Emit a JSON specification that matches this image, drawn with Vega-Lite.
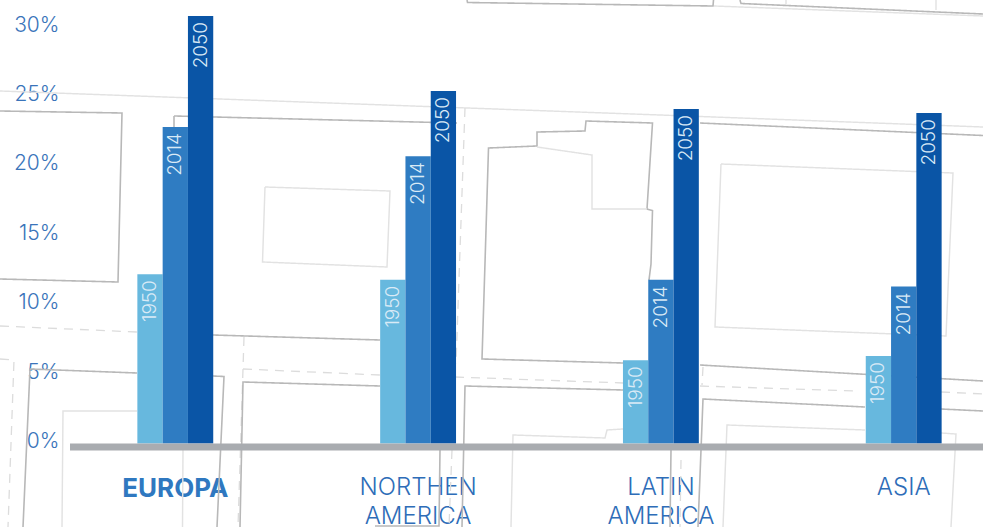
{"$schema":"https://vega.github.io/schema/vega-lite/v6.json","width":983,"height":528,"autosize":{"type":"none"},"padding":0,"background":"#ffffff","config":{"view":{"stroke":null}},"resolve":{"scale":{"x":"independent","y":"independent","color":"independent","strokeWidth":"independent","strokeDash":"independent"},"axis":{"x":"independent","y":"independent"}},"layer":[
{"data":{"values":[
{"id":"a","kind":"wall","i":0,"mx":0,"my":111},{"id":"a","kind":"wall","i":1,"mx":122,"my":113},{"id":"a","kind":"wall","i":2,"mx":118,"my":282},{"id":"a","kind":"wall","i":3,"mx":0,"my":279},
{"id":"b","kind":"thin","i":0,"mx":0,"my":91},{"id":"b","kind":"thin","i":1,"mx":330,"my":103},{"id":"b","kind":"thin","i":2,"mx":660,"my":115},{"id":"b","kind":"thin","i":3,"mx":983,"my":127},
{"id":"c","kind":"wall","i":0,"mx":174,"my":127},{"id":"c","kind":"wall","i":1,"mx":174,"my":116},{"id":"c","kind":"wall","i":2,"mx":457,"my":123},
{"id":"c2","kind":"wall","i":0,"mx":213,"my":335},{"id":"c2","kind":"wall","i":1,"mx":380,"my":340},
{"id":"d","kind":"wall","i":0,"mx":623,"my":363},{"id":"d","kind":"wall","i":1,"mx":482,"my":359},{"id":"d","kind":"wall","i":2,"mx":485,"my":263},{"id":"d","kind":"wall","i":3,"mx":488.5,"my":148},{"id":"d","kind":"wall","i":4,"mx":537,"my":146},{"id":"d","kind":"wall","i":5,"mx":537,"my":132},{"id":"d","kind":"wall","i":6,"mx":585,"my":131},{"id":"d","kind":"wall","i":7,"mx":586,"my":121},{"id":"d","kind":"wall","i":8,"mx":652.5,"my":123},{"id":"d","kind":"wall","i":9,"mx":647,"my":209},{"id":"d","kind":"wall","i":10,"mx":652.5,"my":210.5},{"id":"d","kind":"wall","i":11,"mx":651,"my":264},{"id":"d","kind":"wall","i":12,"mx":649,"my":280},
{"id":"e","kind":"thin","i":0,"mx":537,"my":147},{"id":"e","kind":"thin","i":1,"mx":592,"my":155},{"id":"e","kind":"thin","i":2,"mx":592,"my":209},{"id":"e","kind":"thin","i":3,"mx":647,"my":209},
{"id":"f","kind":"thin","i":0,"mx":265,"my":187},{"id":"f","kind":"thin","i":1,"mx":390,"my":191},{"id":"f","kind":"thin","i":2,"mx":387,"my":267},{"id":"f","kind":"thin","i":3,"mx":262.5,"my":262},{"id":"f","kind":"thin","i":4,"mx":265,"my":187},
{"id":"g","kind":"thin","i":0,"mx":721,"my":164},{"id":"g","kind":"thin","i":1,"mx":953,"my":173},{"id":"g","kind":"thin","i":2,"mx":946,"my":336},{"id":"g","kind":"thin","i":3,"mx":715,"my":327},{"id":"g","kind":"thin","i":4,"mx":721,"my":164},
{"id":"h","kind":"wall","i":0,"mx":700,"my":123},{"id":"h","kind":"wall","i":1,"mx":983,"my":135.5},
{"id":"h2","kind":"wall","i":0,"mx":700,"my":365},{"id":"h2","kind":"wall","i":1,"mx":983,"my":381},
{"id":"r1","kind":"dashed","i":0,"mx":0,"my":326},{"id":"r1","kind":"dashed","i":1,"mx":137,"my":332},
{"id":"r2","kind":"dashed","i":0,"mx":243,"my":369},{"id":"r2","kind":"dashed","i":1,"mx":380,"my":375},
{"id":"r3","kind":"dashed","i":0,"mx":455,"my":377},{"id":"r3","kind":"dashed","i":1,"mx":623,"my":383},
{"id":"r4","kind":"dashed","i":0,"mx":700,"my":386},{"id":"r4","kind":"dashed","i":1,"mx":858,"my":391},
{"id":"r5","kind":"dashed","i":0,"mx":941,"my":392},{"id":"r5","kind":"dashed","i":1,"mx":983,"my":394},
{"id":"v1","kind":"dashed","i":0,"mx":244,"my":337},{"id":"v1","kind":"dashed","i":1,"mx":243,"my":369},{"id":"v1","kind":"dashed","i":2,"mx":238,"my":527},
{"id":"v2","kind":"dashed","i":0,"mx":0,"my":359},{"id":"v2","kind":"dashed","i":1,"mx":14,"my":360},{"id":"v2","kind":"dashed","i":2,"mx":8,"my":527},
{"id":"v3","kind":"dashed","i":0,"mx":465,"my":108},{"id":"v3","kind":"dashed","i":1,"mx":456,"my":364},
{"id":"v4","kind":"dashed","i":0,"mx":452,"my":450},{"id":"v4","kind":"dashed","i":1,"mx":449,"my":527},
{"id":"v5","kind":"dashed","i":0,"mx":703,"my":367},{"id":"v5","kind":"dashed","i":1,"mx":702,"my":385},
{"id":"v6","kind":"dashed","i":0,"mx":681,"my":460},{"id":"v6","kind":"dashed","i":1,"mx":680,"my":527},
{"id":"i","kind":"wall","i":0,"mx":23,"my":527},{"id":"i","kind":"wall","i":1,"mx":30,"my":369},{"id":"i","kind":"wall","i":2,"mx":137,"my":373},
{"id":"i2","kind":"wall","i":0,"mx":213,"my":376},{"id":"i2","kind":"wall","i":1,"mx":224,"my":376.5},{"id":"i2","kind":"wall","i":2,"mx":217,"my":527},
{"id":"j","kind":"wall","i":0,"mx":240,"my":527},{"id":"j","kind":"wall","i":1,"mx":243,"my":382},{"id":"j","kind":"wall","i":2,"mx":380,"my":386},
{"id":"j2","kind":"wall","i":0,"mx":440,"my":450},{"id":"j2","kind":"wall","i":1,"mx":439,"my":526},{"id":"j2","kind":"wall","i":2,"mx":375,"my":526},
{"id":"k","kind":"wall","i":0,"mx":462,"my":527},{"id":"k","kind":"wall","i":1,"mx":465,"my":386},{"id":"k","kind":"wall","i":2,"mx":623,"my":390},
{"id":"k2","kind":"wall","i":0,"mx":671,"my":450},{"id":"k2","kind":"wall","i":1,"mx":670,"my":527},
{"id":"l","kind":"wall","i":0,"mx":698,"my":527},{"id":"l","kind":"wall","i":1,"mx":703,"my":399},{"id":"l","kind":"wall","i":2,"mx":865,"my":407},
{"id":"l2","kind":"wall","i":0,"mx":941,"my":409},{"id":"l2","kind":"wall","i":1,"mx":983,"my":411},
{"id":"m","kind":"thin","i":0,"mx":62,"my":527},{"id":"m","kind":"thin","i":1,"mx":63,"my":411},{"id":"m","kind":"thin","i":2,"mx":137,"my":411},
{"id":"m2","kind":"thin","i":0,"mx":183,"my":450},{"id":"m2","kind":"thin","i":1,"mx":182.5,"my":527},
{"id":"n","kind":"thin","i":0,"mx":511,"my":527},{"id":"n","kind":"thin","i":1,"mx":513,"my":435},{"id":"n","kind":"thin","i":2,"mx":605,"my":438},{"id":"n","kind":"thin","i":3,"mx":607,"my":430},{"id":"n","kind":"thin","i":4,"mx":623,"my":429},
{"id":"o","kind":"thin","i":0,"mx":723,"my":527},{"id":"o","kind":"thin","i":1,"mx":727,"my":425},{"id":"o","kind":"thin","i":2,"mx":865,"my":430},
{"id":"o2","kind":"thin","i":0,"mx":941,"my":433},{"id":"o2","kind":"thin","i":1,"mx":956,"my":434},{"id":"o2","kind":"thin","i":2,"mx":951,"my":527},
{"id":"p","kind":"wall","i":0,"mx":467,"my":0},{"id":"p","kind":"wall","i":1,"mx":467.5,"my":2.5},{"id":"p","kind":"wall","i":2,"mx":713,"my":6},{"id":"p","kind":"wall","i":3,"mx":713.5,"my":0},
{"id":"q","kind":"wall","i":0,"mx":740,"my":0},{"id":"q","kind":"wall","i":1,"mx":741,"my":3.5},{"id":"q","kind":"wall","i":2,"mx":983,"my":14},
{"id":"q2","kind":"thin","i":0,"mx":714,"my":6},{"id":"q2","kind":"thin","i":1,"mx":983,"my":16},
{"id":"q3","kind":"thin","i":0,"mx":786,"my":0},{"id":"q3","kind":"thin","i":1,"mx":786,"my":4},
{"id":"q4","kind":"thin","i":0,"mx":936,"my":0},{"id":"q4","kind":"thin","i":1,"mx":936,"my":10}
]},"mark":{"type":"line","interpolate":"linear","strokeCap":"butt"},"encoding":{
"x":{"field":"mx","type":"quantitative","axis":null,"scale":{"domain":[0,983],"nice":false,"zero":false}},
"y":{"field":"my","type":"quantitative","axis":null,"scale":{"domain":[528,0],"nice":false,"zero":false}},
"detail":{"field":"id"},"order":{"field":"i","type":"quantitative"},
"color":{"field":"kind","type":"nominal","legend":null,"scale":{"domain":["wall","thin","dashed"],"range":["#b8b8b8","#e2e2e2","#dcdcdc"]}},
"strokeWidth":{"field":"kind","type":"nominal","legend":null,"scale":{"domain":["wall","thin","dashed"],"range":[1.6,1.3,1.4]}},
"strokeDash":{"field":"kind","type":"nominal","legend":null,"scale":{"domain":["wall","thin","dashed"],"range":[[1,0],[1,0],[9,7]]}}
}},
{"data":{"values":[
{"region":"EUROPA","year":"1950","share":12.2},{"region":"EUROPA","year":"2014","share":22.8},{"region":"EUROPA","year":"2050","share":30.8},
{"region":"NORTHEN|AMERICA","year":"1950","share":11.8},{"region":"NORTHEN|AMERICA","year":"2014","share":20.7},{"region":"NORTHEN|AMERICA","year":"2050","share":25.4},
{"region":"LATIN|AMERICA","year":"1950","share":6.0},{"region":"LATIN|AMERICA","year":"2014","share":11.8},{"region":"LATIN|AMERICA","year":"2050","share":24.1},
{"region":"ASIA","year":"1950","share":6.3},{"region":"ASIA","year":"2014","share":11.3},{"region":"ASIA","year":"2050","share":23.8}
]},
"encoding":{
"x":{"field":"region","type":"nominal","sort":null,"title":null,"scale":{"range":[53.9,1025.1],"paddingInner":0,"paddingOuter":0},
"axis":{"orient":"bottom","offset":-53,"domain":false,"ticks":false,"grid":false,"labelAngle":0,"labelPadding":0,"labelBaseline":"top","labelAlign":"center","labelFont":"Inter","labelFontSize":{"condition":{"test":"datum.value==='EUROPA'","value":26},"value":24},"labelLineHeight":29,"labelFontWeight":{"condition":{"test":"datum.value==='EUROPA'","value":700},"value":300},"labelColor":{"condition":{"test":"datum.value==='EUROPA'","value":"#2f78c0"},"value":"#2e6db8"},"labelExpr":"split(datum.value,'|')","labelOverlap":false,"labelLimit":200}},
"xOffset":{"field":"year","type":"nominal","scale":{"domain":["_a","_b","_c","1950","2014","2050","_d","_e","_f"],"paddingInner":0,"paddingOuter":0.3}},
"y":{"field":"share","type":"quantitative","title":null,"scale":{"domain":[-6.09,31.95],"nice":false,"zero":false},
"axis":{"orient":"left","offset":-59,"domain":false,"ticks":false,"grid":false,"values":[0,5,10,15,20,25,30],"labelExpr":"datum.value+'%'","labelPadding":0,"labelFont":"Inter","labelFontSize":21,"labelFontWeight":300,"labelColor":"#3a74ba","labelOffset":-2}}
},
"layer":[
{"mark":{"type":"bar"},"encoding":{"y2":{"datum":0},"color":{"field":"year","type":"nominal","legend":null,"scale":{"domain":["1950","2014","2050"],"range":["#67b8de","#2f7cc2","#0a55a6"]}}}},
{"mark":{"type":"text","angle":270,"align":"right","baseline":"middle","font":"Inter","fontSize":19,"fontWeight":300,"color":"#d9eaf6","dx":-6},"encoding":{"text":{"field":"year"}}}
]},
{"data":{"values":[{"mx":70,"my":447},{"mx":983,"my":447}]},"mark":{"type":"line","color":"#a9acb0","strokeWidth":7,"strokeCap":"butt"},"encoding":{
"x":{"field":"mx","type":"quantitative","axis":null,"scale":{"domain":[0,983],"nice":false,"zero":false}},
"y":{"field":"my","type":"quantitative","axis":null,"scale":{"domain":[528,0],"nice":false,"zero":false}}
}}
]}
